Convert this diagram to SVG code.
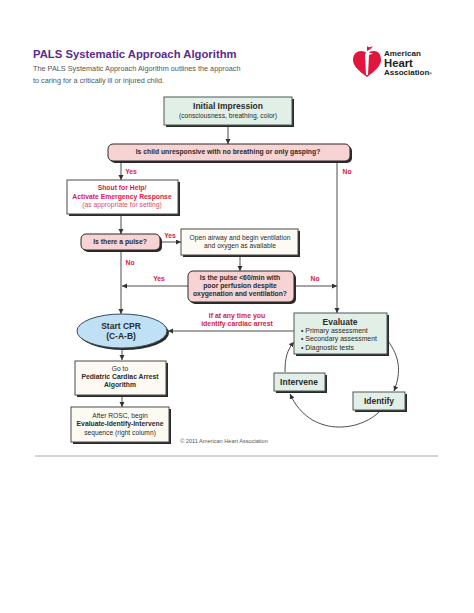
<svg xmlns="http://www.w3.org/2000/svg" width="474" height="613" viewBox="0 0 474 613">
<style>
text{font-family:"Liberation Sans",Arial,sans-serif;text-anchor:middle;fill:#2b2b2b}
.b{font-weight:700}
.r{fill:#d8194a;font-weight:700}
.s{fill:#2a2a2a}
.g{fill:#e2efe6;stroke:#4a5a55;stroke-width:1}
.p{fill:#f8d3d3;stroke:#2a2a2a;stroke-width:1}
.w{fill:#fdfaf3;stroke:#4a4a4a;stroke-width:1}
.l{fill:none;stroke:#4d4d4d;stroke-width:1}
.t8{font-size:7px}
.t7{font-size:6.7px}
.lab{font-size:6.8px}
</style>
<defs><marker id="a" markerWidth="6" markerHeight="6" refX="5" refY="2.5" orient="auto" markerUnits="userSpaceOnUse"><path d="M0 0L5 2.5L0 5z" fill="#333"/></marker></defs>
<rect width="474" height="613" fill="#fff"/>
<g id="header">
<text x="33" y="58" style="text-anchor:start;font-size:11.3px;font-weight:700;fill:#5b2c8c">PALS Systematic Approach Algorithm</text>
<text x="33" y="71" style="text-anchor:start;font-size:7.3px;fill:#555">The PALS Systematic Approach Algorithm outlines the approach</text>
<text x="33" y="83" style="text-anchor:start;font-size:7.3px;fill:#555">to caring for a critically ill or injured child.</text>
</g>
<g id="logo">
<path d="M367 77C359 71 353 66 353 60C353 54 357 51 361 51C364 51 366 52 367 53C368 52 371 51 374 51C378 51 381 54 381 60C381 66 375 71 367 77Z" fill="#e0163f"/>
<path d="M366 52L365 55L366 75L368 75L369 55L373 53.500L369 52.500L371 47L366 52Z" fill="#fff"/>
<path d="M367 46C369 48 371 47 373 46C371 49 369 50 367 51Z" fill="#e0163f"/>
<text x="384" y="56" style="text-anchor:start;font-size:8.100px;font-weight:700;fill:#222">American</text>
<text x="384" y="67" style="text-anchor:start;font-size:11.300px;font-weight:700;fill:#222">Heart</text>
<text x="384" y="75" style="text-anchor:start;font-size:8px;font-weight:700;fill:#222">Association<tspan font-size="3.500">®</tspan></text>
</g>
<g id="connectors">
<path class="l" d="M228 125V144" marker-end="url(#a)"/>
<path class="l" d="M121 161V180" marker-end="url(#a)"/>
<path class="l" d="M337 161V313" marker-end="url(#a)"/>
<path class="l" d="M121 214V234" marker-end="url(#a)"/>
<path class="l" d="M121 250V314" marker-end="url(#a)"/>
<path class="l" d="M160 242H181" marker-end="url(#a)"/>
<path class="l" d="M240 255V271" marker-end="url(#a)"/>
<path class="l" d="M188 286H122" marker-end="url(#a)"/>
<path class="l" d="M294 286H337" marker-end="url(#a)"/>
<path class="l" d="M294 331H168" marker-end="url(#a)"/>
<path class="l" d="M122 348V360" marker-end="url(#a)"/>
<path class="l" d="M122 396V407" marker-end="url(#a)"/>
<path class="l" d="M388 341C399 356 402 371 394 391" marker-end="url(#a)"/>
<path class="l" d="M380 411C360 432 310 438 290 394" marker-end="url(#a)"/>
<path class="l" d="M285 372C285 358 287 350 294 342" marker-end="url(#a)"/>
</g>
<g id="labels">
<text class="r lab" x="131" y="174">Yes</text>
<text class="r lab" x="347" y="174">No</text>
<text class="r lab" x="170" y="238">Yes</text>
<text class="r lab" x="130" y="265">No</text>
<text class="r lab" x="159" y="281">Yes</text>
<text class="r lab" x="315" y="281">No</text>
<text class="r" x="237" y="318" style="font-size:6.900px">If at any time you</text>
<text class="r" x="237" y="326" style="font-size:6.900px">identify cardiac arrest</text>
</g>
<g id="initial-impression">
<rect class="s" x="166" y="99" width="128" height="28"/>
<rect class="g" x="164" y="97" width="128" height="28"/>
<text class="b" x="228" y="109" style="font-size:8.500px">Initial Impression</text>
<text x="228" y="118" class="t7">(consciousness, breathing, color)</text>
</g>
<g id="decision-unresponsive">
<rect class="s" x="110" y="146" width="242" height="17" rx="5"/>
<rect class="p" x="108" y="144" width="242" height="17" rx="5"/>
<text class="b" x="228" y="154" style="font-size:6.800px">Is child unresponsive with no breathing or only gasping?</text>
</g>
<g id="shout">
<rect class="s" x="69" y="182" width="111" height="34"/>
<rect x="67" y="180" width="111" height="34" fill="#fff" stroke="#4a4a4a"/>
<text class="r" x="122" y="190" style="font-size:6.800px">Shout for Help/</text>
<text class="r" x="122" y="199" style="font-size:6.800px">Activate Emergency Response</text>
<text x="122" y="207" style="font-size:6.800px;fill:#d8506f">(as appropriate for setting)</text>
</g>
<g id="decision-pulse">
<rect class="s" x="83" y="236" width="79" height="16" rx="5"/>
<rect class="p" x="81" y="234" width="79" height="16" rx="5"/>
<text class="b" x="120" y="244" style="font-size:6.800px">Is there a pulse?</text>
</g>
<g id="open-airway">
<rect class="s" x="183" y="231" width="117" height="26"/>
<rect class="w" x="181" y="229" width="117" height="26"/>
<text x="240" y="240" class="t7">Open airway and begin ventilation</text>
<text x="240" y="248" class="t7">and oxygen as available</text>
</g>
<g id="decision-pulse-60">
<rect class="s" x="190" y="273" width="106" height="31" rx="5"/>
<rect class="p" x="188" y="271" width="106" height="31" rx="5"/>
<text class="b" x="240" y="280" style="font-size:6.800px">Is the pulse &lt;60/min with</text>
<text class="b" x="240" y="288" style="font-size:6.800px">poor perfusion despite</text>
<text class="b" x="240" y="296" style="font-size:6.800px">oxygenation and ventilation?</text>
</g>
<g id="start-cpr">
<ellipse class="s" cx="124" cy="333" rx="45" ry="17"/>
<ellipse cx="122" cy="331" rx="45" ry="17" fill="#bfe0f5" stroke="#3a4a5a"/>
<text class="b" x="121" y="329" style="font-size:8.500px">Start CPR</text>
<text class="b" x="121" y="339" style="font-size:8.500px">(C-A-B)</text>
</g>
<g id="go-to">
<rect class="s" x="77" y="363" width="91" height="34"/>
<rect class="w" x="75" y="361" width="91" height="34"/>
<text x="120" y="371" class="t7">Go to</text>
<text class="b" x="120" y="379" style="font-size:6.800px">Pediatric Cardiac Arrest</text>
<text class="b" x="120" y="387" style="font-size:6.800px">Algorithm</text>
</g>
<g id="after-rosc">
<rect class="s" x="73" y="409" width="98" height="35"/>
<rect class="w" x="71" y="407" width="98" height="35"/>
<text x="120" y="418" class="t7">After ROSC, begin</text>
<text class="b" x="120" y="426" style="font-size:6.800px">Evaluate-Identify-Intervene</text>
<text x="120" y="435" class="t7">sequence (right column)</text>
</g>
<g id="evaluate">
<rect class="s" x="296" y="315" width="93" height="41"/>
<rect class="g" x="294" y="313" width="93" height="41"/>
<text class="b" x="340" y="325" style="font-size:8.500px">Evaluate</text>
<text x="301" y="333" style="text-anchor:start;font-size:6.900px">• Primary assessment</text>
<text x="301" y="341" style="text-anchor:start;font-size:6.900px">• Secondary assessment</text>
<text x="301" y="350" style="text-anchor:start;font-size:6.900px">• Diagnostic tests</text>
</g>
<g id="intervene">
<rect class="s" x="276" y="375" width="51" height="18"/>
<rect class="g" x="274" y="373" width="51" height="18"/>
<text class="b" x="299" y="385" style="font-size:8.500px">Intervene</text>
</g>
<g id="identify">
<rect class="s" x="355" y="394" width="52" height="18"/>
<rect class="g" x="353" y="392" width="52" height="18"/>
<text class="b" x="379" y="404" style="font-size:8.500px">Identify</text>
</g>
<text x="224" y="443" style="font-size:5.600px;fill:#555">© 2011 American Heart Association</text>
<path d="M35 456H438" stroke="#aaa" stroke-width="1" fill="none"/>
</svg>
